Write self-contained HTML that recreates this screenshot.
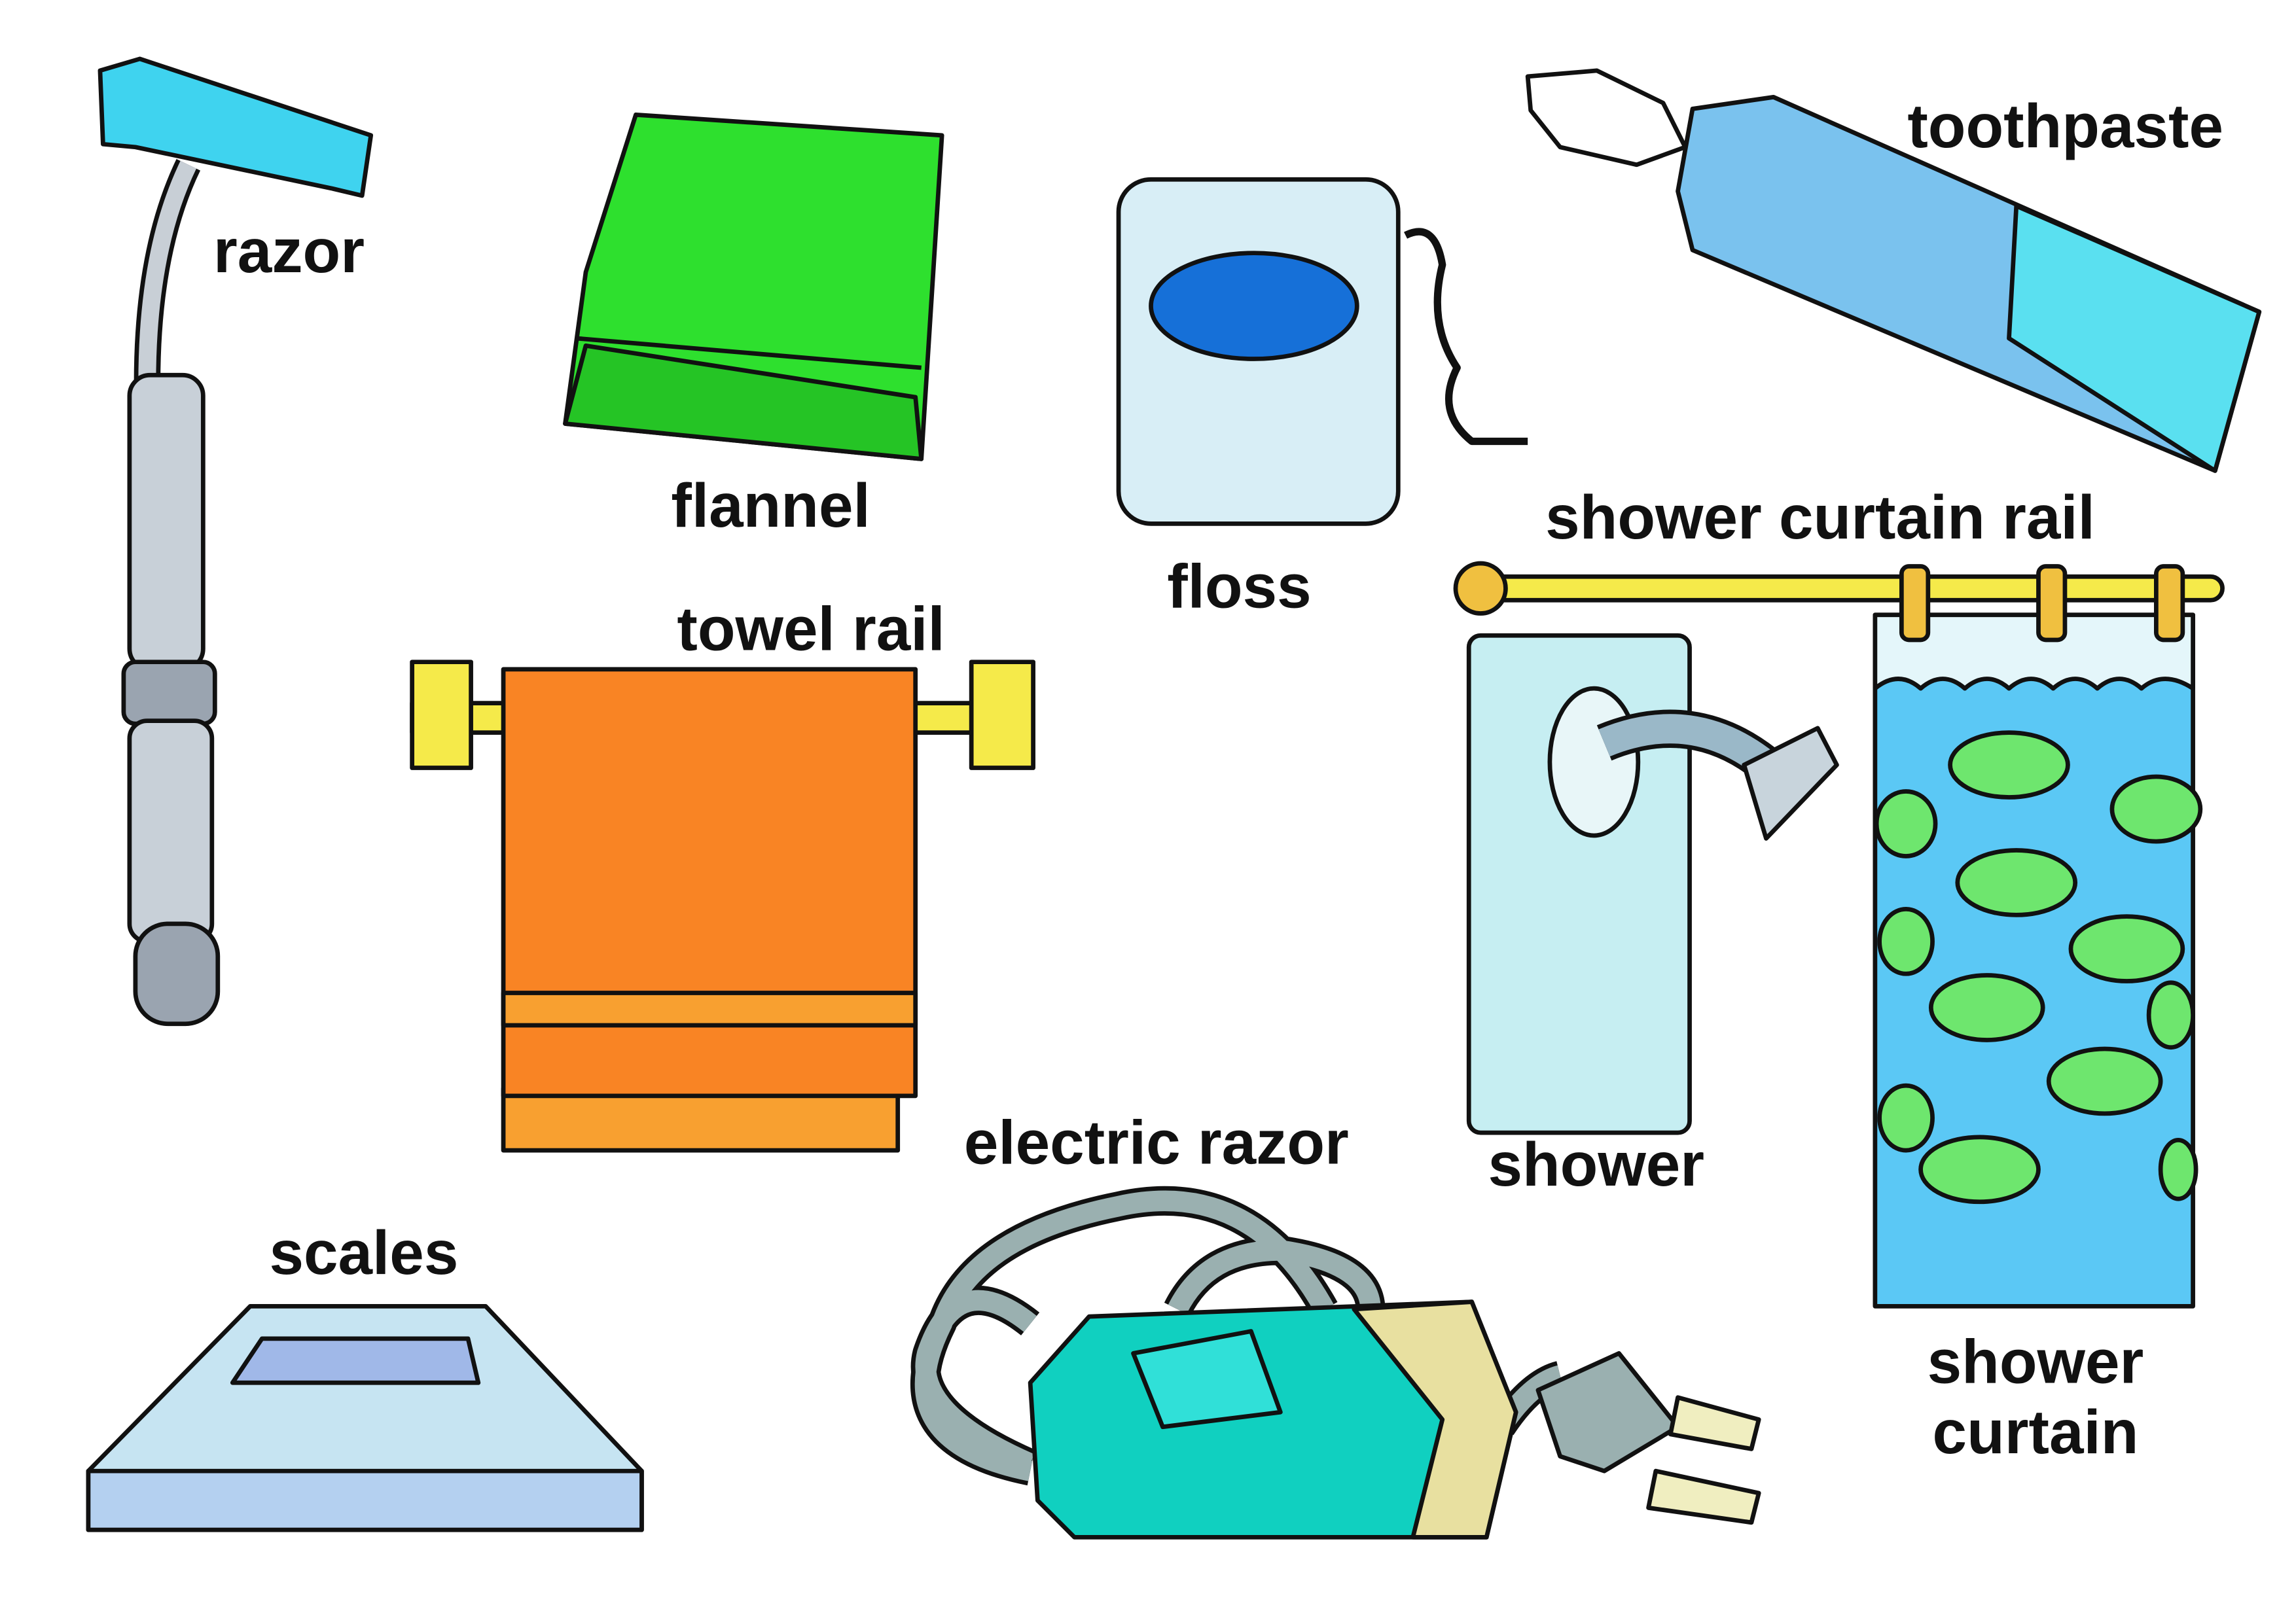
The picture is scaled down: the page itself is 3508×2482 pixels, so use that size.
<!DOCTYPE html>
<html><head><meta charset="utf-8"><style>
html,body{margin:0;padding:0;background:#fff}
svg{display:block}
text{font-family:"Liberation Sans",sans-serif;font-weight:bold;font-size:42px;fill:#111}
</style></head><body>
<svg width="3508" height="2482" viewBox="0 0 1560 1104" preserveAspectRatio="none" xmlns="http://www.w3.org/2000/svg">
<g stroke="#111" stroke-width="3" stroke-linejoin="round">
<!-- razor -->
<path d="M128,112 Q100,170 100,260" fill="none" stroke="#111" stroke-width="18"/>
<path d="M128,112 Q100,170 100,260" fill="none" stroke="#c8cfd6" stroke-width="12"/>
<polygon points="68,48 95,40 252,92 246,133 225,128 92,100 70,98" fill="#3fd3ef"/>
<rect x="88" y="255" width="50" height="200" rx="14" fill="#c8d0d8"/>
<rect x="84" y="450" width="62" height="42" rx="8" fill="#9aa4b0"/>
<rect x="88" y="490" width="56" height="150" rx="12" fill="#c8d0d8"/>
<rect x="92" y="628" width="56" height="68" rx="22" fill="#9aa4b0"/>
<!-- flannel -->
<polygon points="432,78 640,92 626,312 384,288 398,185" fill="#2ee02e"/>
<polygon points="384,288 626,312 622,270 398,235" fill="#25c425"/>
<line x1="392" y1="230" x2="626" y2="250"/>
<!-- floss -->
<path d="M955,160 Q975,150 980,180 Q970,220 990,250 Q975,280 1000,300 L1038,300" fill="none" stroke-width="5"/>
<rect x="760" y="122" width="190" height="234" rx="22" fill="#d8eef6"/>
<ellipse cx="852" cy="208" rx="70" ry="36" fill="#1670d8"/>
<!-- toothpaste -->
<polygon points="1038,52 1085,48 1130,70 1145,100 1112,112 1060,100 1040,75" fill="#fff"/>
<polygon points="1150,74 1205,66 1535,212 1505,320 1150,170 1140,130" fill="#7ac2ee"/>
<polygon points="1370,140 1535,212 1505,320 1365,230" fill="#5ae0f0"/>
<!-- shower curtain rail & curtain -->
<rect x="1274" y="418" width="216" height="470" fill="#5bc8f5"/>
<path d="M1274,418 L1490,418 L1490,468 Q1470,455 1455,468 Q1440,455 1425,468 Q1410,455 1395,468 Q1380,455 1365,468 Q1350,455 1335,468 Q1320,455 1305,468 Q1290,455 1274,468 Z" fill="#e4f6fa"/>
<g fill="#6ee66e">
<ellipse cx="1365" cy="520" rx="40" ry="22"/><ellipse cx="1465" cy="550" rx="30" ry="22"/>
<ellipse cx="1370" cy="600" rx="40" ry="22"/><ellipse cx="1295" cy="560" rx="20" ry="22"/>
<ellipse cx="1445" cy="645" rx="38" ry="22"/><ellipse cx="1350" cy="685" rx="38" ry="22"/>
<ellipse cx="1430" cy="735" rx="38" ry="22"/><ellipse cx="1345" cy="795" rx="40" ry="22"/>
<ellipse cx="1295" cy="640" rx="18" ry="22"/><ellipse cx="1295" cy="760" rx="18" ry="22"/>
<ellipse cx="1475" cy="690" rx="15" ry="22"/><ellipse cx="1480" cy="795" rx="12" ry="20"/>
</g>
<rect x="1000" y="392" width="510" height="16" rx="8" fill="#f5ea4a"/>
<circle cx="1006" cy="400" r="17" fill="#f0c040"/>
<rect x="1292" y="385" width="18" height="50" rx="5" fill="#f0c040"/>
<rect x="1385" y="385" width="18" height="50" rx="5" fill="#f0c040"/>
<rect x="1465" y="385" width="18" height="50" rx="5" fill="#f0c040"/>
<!-- shower -->
<rect x="998" y="432" width="150" height="338" rx="8" fill="#c6eef2"/>
<ellipse cx="1083" cy="518" rx="30" ry="50" fill="#e8f6f8"/>
<path d="M1090,505 Q1150,480 1200,520" fill="none" stroke="#111" stroke-width="26"/>
<path d="M1090,505 Q1150,480 1200,520" fill="none" stroke="#9ab8c8" stroke-width="20"/>
<polygon points="1185,520 1235,495 1248,520 1200,570" fill="#c8d4dc"/>
<!-- towel rail & towel -->
<rect x="280" y="478" width="420" height="20" fill="#f5ea4a"/>
<rect x="280" y="450" width="40" height="72" fill="#f5ea4a"/>
<rect x="660" y="450" width="42" height="72" fill="#f5ea4a"/>
<rect x="342" y="740" width="268" height="42" fill="#f8a030"/>
<rect x="342" y="455" width="280" height="290" fill="#f98424"/>
<rect x="342" y="675" width="280" height="22" fill="#f8a030"/>
<!-- scales -->
<polygon points="60,1000 170,888 330,888 436,1000 436,1040 60,1040" fill="#c6e4f2"/>
<polygon points="60,1000 436,1000 436,1040 60,1040" fill="#b4d0f0"/>
<polygon points="158,940 178,910 318,910 325,940" fill="#a0b8e8"/>
<!-- electric razor -->
<g fill="none" stroke="#111" stroke-width="20">
<path d="M700,1000 Q600,980 640,900 Q660,840 760,820 Q850,800 900,890 M700,995 Q620,960 630,920 Q650,860 700,900 M800,890 Q820,850 870,850 Q940,860 930,900 M1020,970 Q1040,940 1060,935"/>
</g>
<g fill="none" stroke="#9ab0b0" stroke-width="14">
<path d="M700,1000 Q600,980 640,900 Q660,840 760,820 Q850,800 900,890 M700,995 Q620,960 630,920 Q650,860 700,900 M800,890 Q820,850 870,850 Q940,860 930,900 M1020,970 Q1040,940 1060,935"/>
</g>
<polygon points="700,940 740,895 1000,885 1030,960 1010,1045 730,1045 705,1020" fill="#10d0c0"/>
<polygon points="920,890 1000,885 1030,960 1010,1045 960,1045 980,965" fill="#e8e0a0"/>
<polygon points="770,920 850,905 870,960 790,970" fill="#30e0d8"/>
<polygon points="1045,945 1100,920 1140,970 1090,1000 1060,990" fill="#9ab0b0"/>
<polygon points="1140,950 1195,965 1190,985 1135,975" fill="#f0eec0"/>
<polygon points="1125,1000 1195,1015 1190,1035 1120,1025" fill="#f0eec0"/>
</g>
<text x="145" y="185">razor</text>
<text x="456" y="358">flannel</text>
<text x="793" y="413">floss</text>
<text x="1296" y="100">toothpaste</text>
<text x="1050" y="366">shower curtain rail</text>
<text x="460" y="442">towel rail</text>
<text x="655" y="791">electric razor</text>
<text x="1011" y="806">shower</text>
<text x="183" y="866">scales</text>
<text x="1383" y="940" text-anchor="middle">shower</text>
<text x="1383" y="988" text-anchor="middle">curtain</text>
</svg>
</body></html>
